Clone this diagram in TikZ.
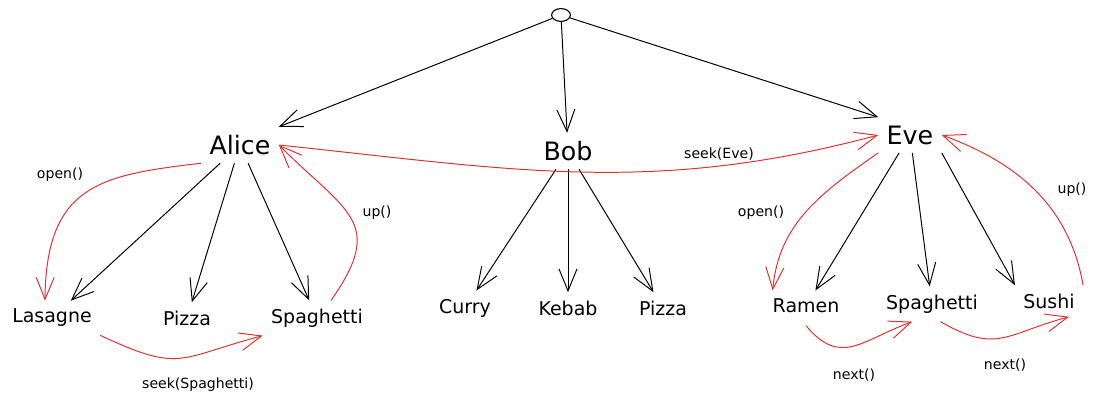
\documentclass[tikz,border=0pt]{standalone}
\usepackage{fontspec}
\setmainfont{DejaVu Sans}
\usetikzlibrary{arrows.meta,shapes.geometric}
\definecolor{cursorred}{HTML}{E03131}

\begin{document}
\begin{tikzpicture}[x=0.025cm, y=-0.025cm]
    % --- Styles ---
    \tikzstyle{person}=[font=\fontsize{18}{20}\selectfont, inner sep=1pt, outer sep=5pt]
    \tikzstyle{dish}=[font=\fontsize{13.5}{15}\selectfont, inner sep=1pt, outer sep=5pt]
    \tikzstyle{call_text}=[font=\fontsize{10}{12}\selectfont]
    \tikzstyle{root_node}=[draw, ellipse, line width=0.8pt, minimum width=0.47cm, minimum height=0.32cm, inner sep=0pt]
    \tikzstyle{child_edge}=[line width=0.7pt, -{Straight Barb[length=5.5mm, width=4.5mm]}]
    \tikzstyle{cursor_move}=[child_edge, color=cursorred]

    \useasboundingbox (0,0) rectangle (1096,405);

    % --- 1. Tree Nodes ---
    \node[root_node] (root) at (561,15) {};

    \node[person] (alice) at (240,145) {Alice};
    \node[person] (bob) at (568,151) {Bob};
    \node[person] (eve) at (910,135) {Eve};

    % Dishes of Alice
    \node[dish] (lasagne) at (52,318) {Lasagne};
    \node[dish] (pizzaA) at (187,318) {Pizza};
    \node[dish] (spaghettiA) at (317,318) {Spaghetti};

    % Dishes of Bob
    \node[dish] (curry) at (465,308) {Curry};
    \node[dish] (kebab) at (568,308) {Kebab};
    \node[dish] (pizzaB) at (663,308) {Pizza};

    % Dishes of Eve
    \node[dish] (ramen) at (806,306) {Ramen};
    \node[dish] (spaghettiE) at (932,304) {Spaghetti};
    \node[dish] (sushi) at (1049,301) {Sushi};

    % --- 2. Tree Edges ---
    \draw[child_edge] (root) -- (alice.north east);
    \draw[child_edge] (root) -- (bob);
    \draw[child_edge] (root) -- (eve.north west);

    \draw[child_edge] (alice) -- (lasagne);
    \draw[child_edge] (alice) -- (pizzaA);
    \draw[child_edge] (alice) -- (spaghettiA);

    \draw[child_edge] (bob) -- (curry);
    \draw[child_edge] (bob) -- (kebab);
    \draw[child_edge] (bob) -- (pizzaB);

    \draw[child_edge] (eve) -- (ramen);
    \draw[child_edge] (eve) -- (spaghettiE);
    \draw[child_edge] (eve.south east) -- (sushi.north west);

    % --- 3. Cursor Moves ---
    \draw[cursor_move] (alice.south west) .. controls (100,175) and (46,185) .. ([xshift=-5pt]lasagne.north);
    \draw[cursor_move] (lasagne.south east) to[out=-25, in=195, looseness=1.4] (spaghettiA.south west);
    \draw[cursor_move] ([xshift=10pt]spaghettiA.north) to[out=55, in=-45, looseness=1.5] (alice.east);
    \draw[cursor_move] (alice.east) to[out=-6, in=195] (eve.west);
    \draw[cursor_move] (eve.south west) to[out=215, in=85] ([xshift=6pt]ramen.north west);
    \draw[cursor_move] ([yshift=-3pt]ramen.south) to[out=-50, in=200, looseness=1.3] ([xshift=-14pt]spaghettiE.south);
    \draw[cursor_move] ([xshift=6pt]spaghettiE.south) to[out=-30, in=195, looseness=1.3] ([xshift=-10pt]sushi.south east);
    \draw[cursor_move] (sushi.north east) to[out=100, in=-20] (eve.east);

    % --- 4. Call Labels ---
    \node[call_text] (openA) at (60,175) {open()};
    \node[call_text] (upA) at (377,213) {up()};
    \node[call_text] (seekS) at (198,385) {seek(Spaghetti)};
    \node[call_text] (seekE) at (719,154) {seek(Eve)};
    \node[call_text] (openE) at (761,213) {open()};
    \node[call_text] (upE) at (1072,190) {up()};
    \node[call_text] (nextA) at (854,375) {next()};
    \node[call_text] (nextB) at (1005,365) {next()};
\end{tikzpicture}
\end{document}
